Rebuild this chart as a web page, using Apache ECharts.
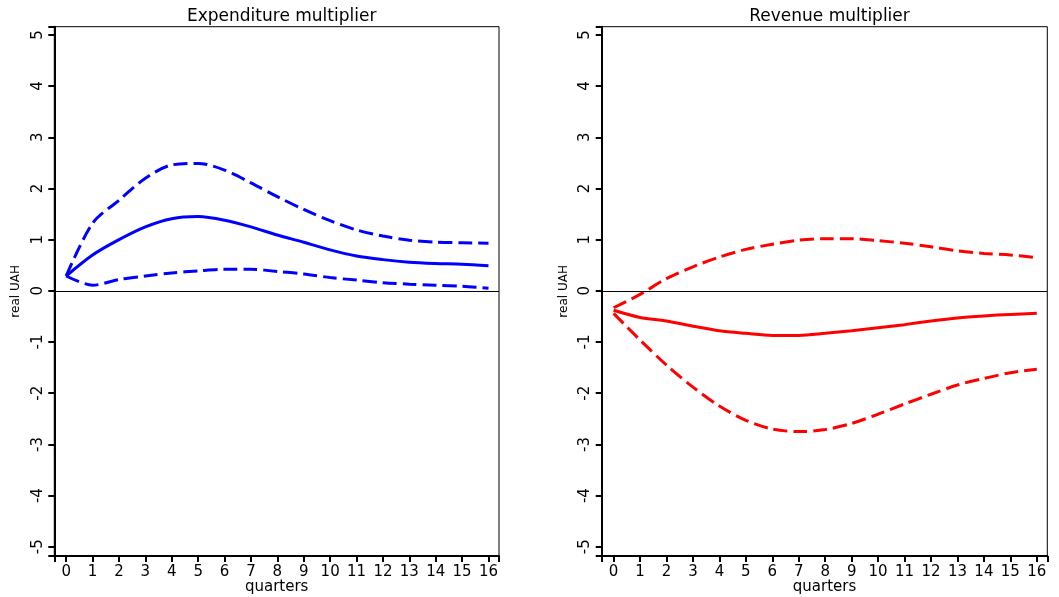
<!DOCTYPE html>
<html>
<head>
    <meta charset="utf-8">
    <title>Expenditure and revenue multipliers</title>
    <script src="https://cdn.jsdelivr.net/npm/echarts@6/dist/echarts.min.js"></script>
    <style>
        html, body { margin: 0; padding: 0; background: #fff; }
        #chart { width: 1059px; height: 597px; }
    </style>
</head>
<body>
    <div id="chart"></div>

    <script type="text/javascript">

        // quarters 0..16
        var quarters = [0, 1, 2, 3, 4, 5, 6, 7, 8, 9, 10, 11, 12, 13, 14, 15, 16];
        var yTicks = [-5, -4, -3, -2, -1, 0, 1, 2, 3, 4, 5];

        // Expenditure multiplier (blue)
        var expMid   = [0.29, 0.70, 1.00, 1.25, 1.41, 1.45, 1.38, 1.25, 1.09, 0.95, 0.80, 0.68, 0.61, 0.56, 0.535, 0.52, 0.49];
        var expUpper = [0.29, 1.32, 1.77, 2.20, 2.46, 2.49, 2.36, 2.11, 1.84, 1.59, 1.37, 1.19, 1.07, 0.99, 0.95, 0.94, 0.93];
        var expLower = [0.29, 0.11, 0.22, 0.29, 0.35, 0.39, 0.42, 0.42, 0.38, 0.33, 0.26, 0.21, 0.16, 0.13, 0.11, 0.09, 0.05];

        // Revenue multiplier (red)
        var revMid   = [-0.38, -0.52, -0.59, -0.69, -0.78, -0.83, -0.87, -0.87, -0.83, -0.78, -0.72, -0.66, -0.59, -0.53, -0.49, -0.46, -0.44];
        var revUpper = [-0.33, -0.07, 0.24, 0.47, 0.66, 0.81, 0.91, 0.99, 1.02, 1.02, 0.98, 0.93, 0.86, 0.78, 0.73, 0.70, 0.65];
        var revLower = [-0.44, -0.96, -1.45, -1.88, -2.25, -2.53, -2.70, -2.75, -2.71, -2.59, -2.41, -2.21, -2.02, -1.84, -1.71, -1.60, -1.53];

        var font = 'DejaVu Sans';

        function pairs(vals) {
            var out = [];
            for (var i = 0; i < quarters.length; i++) {
                out.push([quarters[i], vals[i]]);
            }
            return out;
        }

        // outer box: frame, thick left/bottom lines, ticks, axis names, zero line
        // no fixed interval here, min/maxInterval keep the nice ticks on whole numbers
        function outerX(g) {
            return {
                gridIndex: g, type: 'value', min: -0.45, max: 16.4,
                splitNumber: 16, minInterval: 1, maxInterval: 1,
                name: 'quarters', nameLocation: 'middle', nameGap: 24, nameMoveOverlap: false,
                nameTextStyle: { fontFamily: font, fontSize: 15, color: '#000' },
                axisLine: { show: true, onZero: false, lineStyle: { color: '#000', width: 2 } },
                axisTick: { show: true, length: 6, lineStyle: { color: '#000', width: 2 } },
                axisLabel: { show: false }, splitLine: { show: false }
            };
        }
        function outerY(g) {
            return {
                gridIndex: g, type: 'value', min: -5.18, max: 5.16,
                splitNumber: 10, minInterval: 1, maxInterval: 1,
                name: 'real UAH', nameLocation: 'middle', nameRotate: 90, nameGap: 32, nameMoveOverlap: false,
                nameTextStyle: { fontFamily: font, fontSize: 12, color: '#000' },
                axisLine: { show: true, onZero: false, lineStyle: { color: '#000', width: 2 } },
                axisTick: { show: true, length: 6, lineStyle: { color: '#000', width: 2 } },
                axisLabel: { show: false }, splitLine: { show: false }
            };
        }

        // inner box: exactly the tick range, labels pushed out to the frame by offset
        function innerX(g, off) {
            return {
                gridIndex: g, type: 'value', min: 0, max: 16, interval: 1, offset: off,
                axisLine: { show: false, onZero: false },
                axisTick: { show: false },
                axisLabel: { margin: 9, fontFamily: font, fontSize: 15, color: '#000' },
                splitLine: { show: false }
            };
        }
        function innerY(g, off) {
            return {
                gridIndex: g, type: 'value', min: -5, max: 5, interval: 1, offset: off,
                axisLine: { show: false, onZero: false },
                axisTick: { show: false },
                axisLabel: { rotate: 90, margin: 9, fontFamily: font, fontSize: 15, color: '#000' },
                splitLine: { show: false }
            };
        }

        function lineFor(axisIdx, vals, color, dashed) {
            return {
                type: 'line',
                xAxisIndex: axisIdx,
                yAxisIndex: axisIdx,
                data: pairs(vals),
                smooth: 0.3,
                symbol: 'none',
                clip: false,
                lineStyle: { color: color, width: 3, type: dashed ? [14, 6] : 'solid' },
                silent: true,
                z: 3
            };
        }

        function zeroLine(axisIdx) {
            return {
                type: 'line',
                xAxisIndex: axisIdx,
                yAxisIndex: axisIdx,
                data: [],
                silent: true,
                markLine: {
                    silent: true,
                    symbol: 'none',
                    label: { show: false },
                    lineStyle: { color: '#000', width: 1, type: 'solid' },
                    data: [{ yAxis: 0 }]
                },
                z: 2
            };
        }

        var myChart = echarts.init(document.getElementById('chart'));

        myChart.setOption({
            animation: false,
            backgroundColor: '#fff',
            title: [
                { text: 'Expenditure multiplier', left: 276.7, top: 3, textAlign: 'center',
                  textStyle: { fontFamily: font, fontSize: 17, fontWeight: 'normal', color: '#000' } },
                { text: 'Revenue multiplier', left: 824.5, top: 3, textAlign: 'center',
                  textStyle: { fontFamily: font, fontSize: 17, fontWeight: 'normal', color: '#000' } }
            ],
            grid: [
                { left: 54.3, top: 26.7, width: 444.7, height: 529.3, outerBoundsMode: 'none',
                  show: true, borderColor: '#000', borderWidth: 1 },
                { left: 66.2, top: 34.9, width: 422.3, height: 511.9, outerBoundsMode: 'none' },
                { left: 601.7, top: 26.7, width: 445.6, height: 529.3, outerBoundsMode: 'none',
                  show: true, borderColor: '#000', borderWidth: 1 },
                { left: 613.6, top: 34.9, width: 423.2, height: 511.9, outerBoundsMode: 'none' }
            ],
            xAxis: [outerX(0), innerX(1, 9.2), outerX(2), innerX(3, 9.2)],
            yAxis: [outerY(0), innerY(1, 11.9), outerY(2), innerY(3, 11.9)],
            series: [
                zeroLine(0),
                lineFor(1, expMid, '#0000ff', false),
                lineFor(1, expUpper, '#0000ff', true),
                lineFor(1, expLower, '#0000ff', true),
                zeroLine(2),
                lineFor(3, revMid, '#ff0000', false),
                lineFor(3, revUpper, '#ff0000', true),
                lineFor(3, revLower, '#ff0000', true)
            ]
        });

    </script>
</body>
</html>
